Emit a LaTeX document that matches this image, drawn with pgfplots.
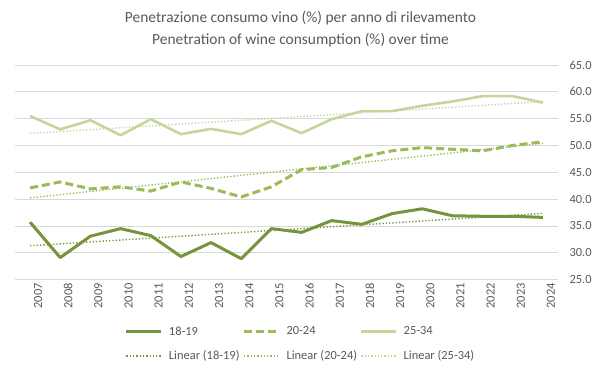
\documentclass[border=0pt]{standalone}
\usepackage{fontspec}
\setmainfont{Carlito}
\usepackage{pgfplots}
\usepackage{pgfplotstable}
\pgfplotsset{compat=1.18}
\definecolor{cA}{HTML}{77933C}
\definecolor{cB}{HTML}{9BBB59}
\definecolor{cC}{HTML}{C3D69B}
\definecolor{txt}{HTML}{595959}
\definecolor{gridc}{HTML}{D9D9D9}

\pgfplotstableread{
x a b c
0 35.7 42.1 55.5
1 29.1 43.2 53.0
2 33.1 41.9 54.7
3 34.5 42.3 51.9
4 33.2 41.5 54.9
5 29.3 43.2 52.1
6 31.9 42.0 53.1
7 28.9 40.4 52.1
8 34.5 42.3 54.6
9 33.8 45.5 52.3
10 36.0 45.9 54.9
11 35.3 47.9 56.4
12 37.3 49.0 56.4
13 38.2 49.6 57.4
14 36.9 49.3 58.2
15 36.8 49.0 59.2
16 36.8 50.0 59.2
17 36.6 50.7 58.0
}\data

\begin{document}
\begin{tikzpicture}
\useasboundingbox (0,0) rectangle (601bp,378bp);
\begin{axis}[
  at={(15bp,98.4bp)}, anchor=south west,
  scale only axis, width=543bp, height=214.6bp,
  xmin=-0.5, xmax=17.5, ymin=25, ymax=65,
  xtick={0,...,17},
  xticklabels={2007,2008,2009,2010,2011,2012,2013,2014,2015,2016,2017,2018,2019,2020,2021,2022,2023,2024},
  ytick={25,30,...,65},
  yticklabel pos=right,
  axis line style={draw=none},
  major tick length=0pt,
  ymajorgrids, grid style={gridc, line width=0.8bp},
  /pgf/number format/assume math mode=true,
  /pgf/number format/.cd, fixed, fixed zerofill, precision=1, /pgfplots/.cd,
  yticklabel style={font=\fontsize{12.5}{14}\selectfont, text=txt, anchor=west, xshift=8bp},
  xticklabel style={font=\fontsize{12.5}{14}\selectfont, text=txt, rotate=90, anchor=east, xshift=0bp, yshift=-8bp},
  legend columns=3,
  legend cell align=left,
  legend style={draw=none, fill=none, at={(0.526,-0.30)}, anchor=center,
    font=\fontsize{12.5}{14}\selectfont, text=txt,
    /tikz/every even column/.append style={column sep=1bp},
    /tikz/every odd column/.append style={column sep=4bp},
    row sep=10bp},
  legend image code/.code={\draw[#1] (0bp,0bp) -- (35bp,0bp);},
]
\addplot[cA, line width=3bp, line join=round] table[x=x, y=a] {\data};
\addlegendentry{18-19}
\addplot[cB, line width=3bp, dash pattern=on 8bp off 4bp, line join=round] table[x=x, y=b] {\data};
\addlegendentry{20-24}
\addplot[cC, line width=2.6bp, line join=round] table[x=x, y=c] {\data};
\addlegendentry{25-34}
\addplot[cA, line width=1.4bp, dash pattern=on 1.3bp off 2bp] table[x=x, y={create col/linear regression={y=a}}] {\data};
\addlegendentry{Linear (18-19)}
\addplot[cB, line width=1.4bp, dash pattern=on 1.3bp off 2bp] table[x=x, y={create col/linear regression={y=b}}] {\data};
\addlegendentry{Linear (20-24)}
\addplot[cC, line width=1.4bp, dash pattern=on 1.3bp off 2bp] table[x=x, y={create col/linear regression={y=c}}] {\data};
\addlegendentry{Linear (25-34)}
\end{axis}
\node[text=txt, font=\fontsize{15.5}{17}\selectfont] at (300.5bp,360bp) {Penetrazione consumo vino (\%) per anno di rilevamento};
\node[text=txt, font=\fontsize{15.5}{17}\selectfont] at (300.5bp,338bp) {Penetration of wine consumption (\%) over time};
\end{tikzpicture}
\end{document}
